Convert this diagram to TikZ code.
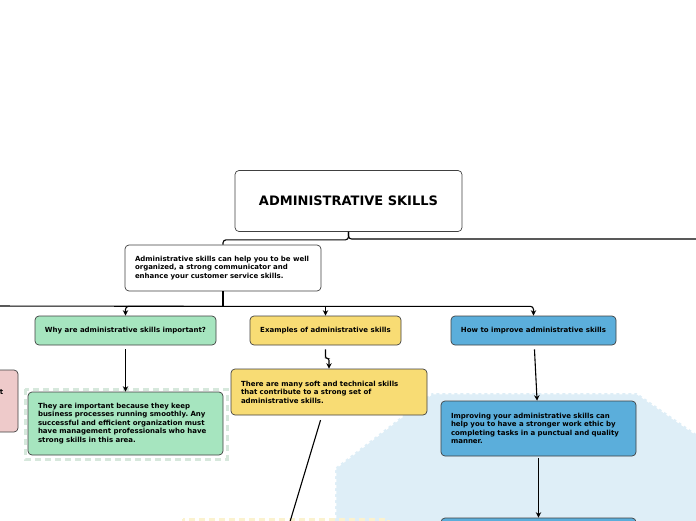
\documentclass[tikz,border=0pt]{standalone}
\usepackage{fontspec}
\setmainfont{DejaVu Sans}
\usetikzlibrary{arrows.meta,positioning}
\definecolor{grn}{HTML}{A6E5BF}
\definecolor{yel}{HTML}{F8DC74}
\definecolor{blu}{HTML}{5BAEDB}
\definecolor{pnk}{HTML}{EECACA}
\definecolor{bluhalo}{HTML}{DEEEF7}
\definecolor{grnhalo}{HTML}{D6E8DC}
\definecolor{yelhalo}{HTML}{FBF2CF}
\frenchspacing

\begin{document}
\begin{tikzpicture}[x=1pt,y=-1pt,>={Stealth[length=5.5pt,width=5.5pt]},
 font=\fontsize{7}{8.5}\selectfont\bfseries,
 box/.style={draw=black!75,line width=0.7pt,rounded corners=4pt,inner sep=0pt},
 topic/.style={box,minimum height=29pt},
 note/.style={box,align=left,inner xsep=10pt},
 link/.style={line width=1.1pt}]
\useasboundingbox (0,0) rectangle (696,520);
% boundaries
\fill[bluhalo] (335,530) -- (335,468) -- (432,393) -- (637,393) -- (705,440) -- (705,530) -- cycle;
\draw[white,line width=2.5pt,dash pattern=on 3pt off 3pt] (335,530) -- (335,468) -- (432,393) -- (637,393) -- (705,440);
\draw[grnhalo,line width=3pt,dash pattern=on 6pt off 4pt] (25,389) rectangle (227,459);
\draw[yelhalo,line width=3pt,dash pattern=on 6pt off 4pt] (183,519) rectangle (388,600);
% topics
\node[box,fill=white,minimum width=227pt,minimum height=61pt,font=\fontsize{13}{15}\selectfont\bfseries] (root) at (348.5,201) {ADMINISTRATIVE SKILLS};
\node[note,fill=white,text width=176pt,minimum height=46pt] (intro) at (223,268) {Administrative skills can help you to be well\\organized, a strong communicator and\\enhance your customer service skills.};
\node[topic,fill=grn,minimum width=181pt] (why) at (125.5,330.5) {Why are administrative skills important?};
\node[topic,fill=yel,minimum width=151pt] (ex) at (325.5,330.5) {Examples of administrative skills};
\node[topic,fill=blu,minimum width=165pt] (how) at (533.5,330.5) {How to improve administrative skills};
\node[note,fill=grn,text width=175pt,minimum height=63pt] (why1) at (125.5,423.5) {They are important because they keep\\business processes running smoothly. Any\\successful and efficient organization must\\have management professionals who have\\strong skills in this area.};
\node[note,fill=yel,text width=176pt,minimum height=46pt] (ex1) at (329,392) {There are many soft and technical skills\\that contribute to a strong set of\\administrative skills.};
\node[note,fill=blu,text width=175pt,minimum height=55pt] (how1) at (538.5,428.5) {Improving your administrative skills can\\help you to have a stronger work ethic by\\completing tasks in a punctual and quality\\manner.};
\node[box,fill=blu,minimum width=195pt,minimum height=60pt] (how2) at (538.5,548) {};
\node[box,fill=pnk,minimum width=136pt,minimum height=62pt] (side) at (-50,401) {};
\node[anchor=east,inner sep=0pt] (sidetxt) at (3.5,392) {t};
% loose ends
\coordinate (offR) at (710,239);
\coordinate (offL) at (-20,306);
\coordinate (offB) at (286,535);
% links
\draw[link,rounded corners=3pt] (root.south) |- (offR);
\draw[link,rounded corners=3pt] (root.south) -- ++(0,8) -| (intro.north);
\draw[link] (intro.south) -- ++(0,15) coordinate (hub);
\draw[link] (hub) -- (offL);
\draw[link,->,rounded corners=3pt] (hub) -| (why.north);
\draw[link,->] (hub) -| (ex.north);
\draw[link,->,rounded corners=3pt] (hub) -| (how.north);
\draw[link,->,shorten <=4pt] (why) -- (why1);
\draw[link,->,shorten <=4pt,rounded corners=2pt] (ex.south) -- ++(0,13) -| (ex1.north);
\draw[link,shorten <=5pt] (ex1) -- (offB);
\draw[link,->,shorten <=4pt] (how) -- (how1);
\draw[link,->,shorten <=2pt] (how1) -- (how2);
\end{tikzpicture}
\end{document}
